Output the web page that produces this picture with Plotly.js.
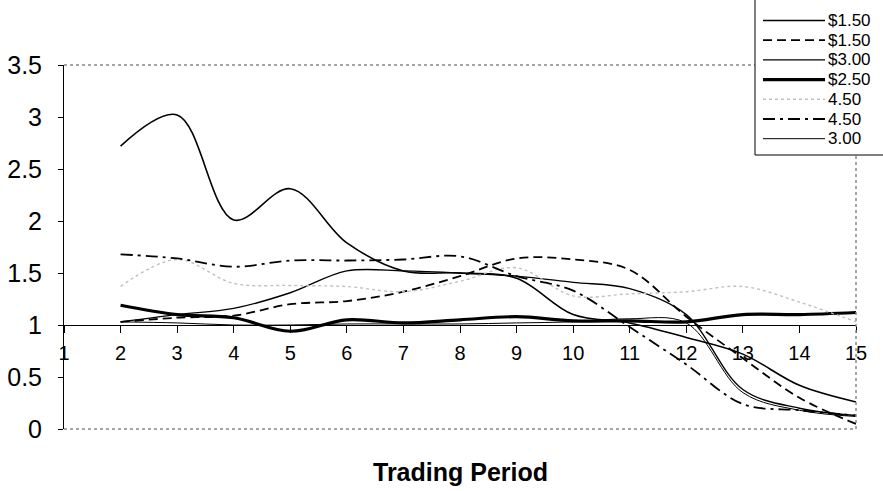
<!DOCTYPE html>
<html>
<head>
<meta charset="utf-8">
<script src="https://cdn.plot.ly/plotly-3.0.1.min.js"></script>
<style>html,body{margin:0;padding:0;background:#fff;}#chart{width:883px;height:491px;}</style>
</head>
<body>
<div id="chart"></div>
<script>
// Trading periods
const periods = [2, 3, 4, 5, 6, 7, 8, 9, 10, 11, 12, 13, 14, 15];
const xTickVals = [1, 2, 3, 4, 5, 6, 7, 8, 9, 10, 11, 12, 13, 14, 15];
const yTickVals = [0, 0.5, 1, 1.5, 2, 2.5, 3, 3.5];

// Series names (legend order)
const seriesNames = ["$1.50", "$1.50", "$3.00", "$2.50", "4.50", "4.50", "3.00"];

// Series values
const s1_150_solid  = [2.72, 3.02, 2.01, 2.31, 1.79, 1.52, 1.50, 1.45, 1.10, 1.02, 0.88, 0.72, 0.42, 0.26];
const s2_150_dash   = [1.03, 1.07, 1.09, 1.20, 1.23, 1.32, 1.47, 1.64, 1.63, 1.53, 1.08, 0.68, 0.30, 0.05];
const s3_300_solid  = [1.03, 1.10, 1.16, 1.31, 1.52, 1.52, 1.50, 1.47, 1.41, 1.35, 1.10, 0.38, 0.20, 0.13];
const s4_250_thick  = [1.19, 1.10, 1.07, 0.94, 1.05, 1.02, 1.05, 1.08, 1.04, 1.04, 1.03, 1.10, 1.10, 1.12];
const s5_450_grey   = [1.37, 1.63, 1.40, 1.38, 1.37, 1.32, 1.42, 1.55, 1.28, 1.30, 1.32, 1.37, 1.22, 1.03];
const s6_450_dashdot= [1.68, 1.64, 1.56, 1.62, 1.62, 1.63, 1.66, 1.47, 1.33, 0.98, 0.62, 0.24, 0.18, 0.13];
const s7_300_thin   = [1.03, 1.02, 1.00, 1.00, 1.01, 1.01, 1.01, 1.02, 1.03, 1.06, 1.02, 0.35, 0.18, 0.12];

const seriesValues = [s1_150_solid, s2_150_dash, s3_300_solid, s4_250_thick, s5_450_grey, s6_450_dashdot, s7_300_thin];
const seriesStyles = [
  {color: "#000", width: 1.6, dash: "solid"},
  {color: "#000", width: 1.8, dash: "9px,5px"},
  {color: "#000", width: 1.4, dash: "solid"},
  {color: "#000", width: 3.2, dash: "solid"},
  {color: "#c0c0c0", width: 1.4, dash: "dot"},
  {color: "#000", width: 1.8, dash: "12px,5px,3px,5px"},
  {color: "#000", width: 1.0, dash: "solid"}
];

const traces = seriesValues.map((vals, i) => ({
  x: periods,
  y: vals,
  name: seriesNames[i],
  type: "scatter",
  mode: "lines",
  showlegend: false,
  line: Object.assign({shape: "spline", smoothing: 1.0}, seriesStyles[i])
}));

const font = "Liberation Sans, Arial, sans-serif";

// plot area in pixels: left 64, right 856, top 65, bottom 429
const PL = 64, PR = 856, PT = 65, PB = 429;
const px = v => (v - PL) / (PR - PL);
const py = v => (PB - v) / (PB - PT);

// hand-built legend (box, samples, labels)
const legendShapes = [
  {type: "rect", xref: "paper", yref: "paper", x0: px(755), x1: px(895), y0: py(155), y1: py(-3),
   fillcolor: "#fff", line: {color: "#000", width: 1}}
];
const legendAnnotations = [];
seriesNames.forEach((name, i) => {
  const yc = 20.5 + i * 19.7;
  legendShapes.push({type: "line", xref: "paper", yref: "paper", x0: px(763), x1: px(825), y0: py(yc), y1: py(yc),
    line: {color: seriesStyles[i].color, width: seriesStyles[i].width, dash: seriesStyles[i].dash}});
  legendAnnotations.push({text: name, xref: "paper", yref: "paper", x: px(827), y: py(yc), xanchor: "left", yanchor: "middle",
    showarrow: false, borderpad: 0, font: {family: font, size: 17, color: "#000"}});
});

const layout = {
  width: 883,
  height: 491,
  margin: {l: PL, r: 883 - PR, t: PT, b: 491 - PB, autoexpand: false},
  paper_bgcolor: "#fff",
  plot_bgcolor: "#fff",
  showlegend: false,
  font: {family: font, color: "#000"},
  xaxis: {
    range: [1, 15],
    tickvals: xTickVals,
    ticktext: xTickVals.map(String),
    anchor: "free",
    position: 1 / 3.5,
    showline: true,
    linecolor: "#000",
    linewidth: 1,
    ticks: "outside",
    ticklen: 7,
    tickcolor: "#000",
    ticklabelstandoff: 3,
    showgrid: false,
    zeroline: false,
    tickfont: {family: font, size: 20, color: "#000"}
  },
  yaxis: {
    range: [0, 3.5],
    tickvals: yTickVals,
    ticktext: yTickVals.map(String),
    showline: true,
    linecolor: "#000",
    linewidth: 1,
    ticks: "outside",
    ticklen: 5,
    tickcolor: "#000",
    ticklabelstandoff: 11,
    showgrid: false,
    zeroline: false,
    tickfont: {family: font, size: 25, color: "#000"}
  },
  shapes: [
    {type: "line", xref: "paper", yref: "paper", x0: 0, x1: 1, y0: 1, y1: 1, line: {color: "#888", width: 1.5, dash: "dot"}},
    {type: "line", xref: "paper", yref: "paper", x0: 1, x1: 1, y0: 0, y1: 1, line: {color: "#888", width: 1.5, dash: "dot"}},
    {type: "line", xref: "paper", yref: "paper", x0: 0, x1: 1, y0: 0, y1: 0, line: {color: "#888", width: 1.5, dash: "dot"}}
  ].concat(legendShapes),
  annotations: [
    {text: "<b>Trading Period</b>", xref: "paper", yref: "paper", x: 0.5, y: py(472), xanchor: "center", yanchor: "middle",
     showarrow: false, font: {family: font, size: 25, color: "#000"}}
  ].concat(legendAnnotations)
};

Plotly.newPlot("chart", traces, layout, {displayModeBar: false, staticPlot: true});
</script>
</body>
</html>
